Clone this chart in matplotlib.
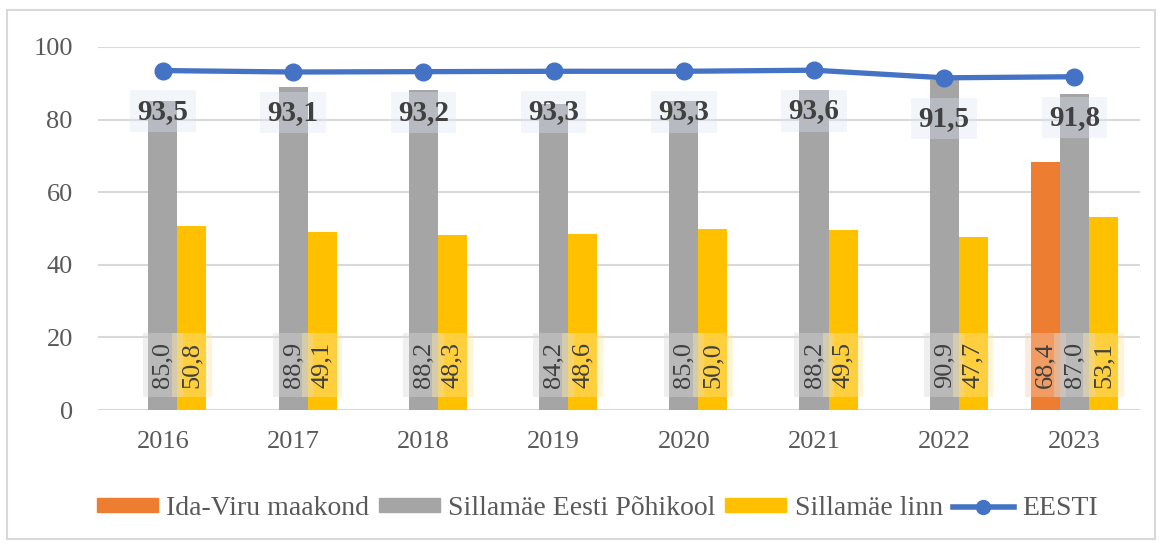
import matplotlib
matplotlib.use("Agg")
import matplotlib.pyplot as plt
import numpy as np
from matplotlib.patches import Rectangle
from matplotlib.lines import Line2D

plt.rcParams["font.family"] = ["Liberation Serif", "DejaVu Serif"]

years = ["2016", "2017", "2018", "2019", "2020", "2021", "2022", "2023"]
ida_viru = [np.nan, np.nan, np.nan, np.nan, np.nan, np.nan, np.nan, 68.4]
pohikool = [85.0, 88.9, 88.2, 84.2, 85.0, 88.2, 90.9, 87.0]
linn = [50.8, 49.1, 48.3, 48.6, 50.0, 49.5, 47.7, 53.1]
eesti = [93.5, 93.1, 93.2, 93.3, 93.3, 93.6, 91.5, 91.8]

c_orange = "#ED7D31"
c_gray = "#A5A5A5"
c_yellow = "#FFC000"
c_blue = "#4472C4"


def fmt(v):
    return f"{v:.1f}".replace(".", ",")


fig = plt.figure(figsize=(11.64, 5.46), dpi=100)
ax = fig.add_axes([0.084, 0.249, 0.895, 0.665])

# outer chart border
fig.patches.append(Rectangle((0.006, 0.012), 0.986, 0.97, transform=fig.transFigure,
                             fill=False, edgecolor="#D9D9D9", lw=1.5))

x = np.arange(len(years))
w = 0.223
series = [(ida_viru, c_orange, -w, "#F8CBAD"), (pohikool, c_gray, 0, "#D9D9D9"),
          (linn, c_yellow, w, "#FFE699")]
for vals, col, off, light in series:
    ax.bar(x + off, vals, width=w, color=col, zorder=2)
    for xi, v in zip(x, vals):
        if np.isnan(v):
            continue
        ax.text(xi + off, 12.4, fmt(v), rotation=90, ha="center", va="center",
                fontsize=19, color="#404040", zorder=4,
                bbox=dict(boxstyle="square,pad=0.35", fc=light, ec="none", alpha=0.4))

ax.plot(x, eesti, color=c_blue, lw=3.8, marker="o", ms=12, zorder=5)
for xi, v in zip(x, eesti):
    ax.text(xi, v - 11.2, fmt(v), ha="center", va="center", fontsize=21,
            fontweight="bold", color="#404040", zorder=6,
            bbox=dict(boxstyle="square,pad=0.25", fc="#DAE3F3", ec="none", alpha=0.35))

ax.set_ylim(0, 100)
ax.set_xlim(-0.5, len(years) - 0.5)
ax.set_yticks(range(0, 101, 20))
ax.set_xticks(x)
ax.set_xticklabels(years)
ax.tick_params(length=0, labelsize=19, labelcolor="#595959")
ax.tick_params(axis="y", pad=18)
ax.tick_params(axis="x", pad=15)
ax.grid(axis="y", color="#D9D9D9", lw=1.5, zorder=0)
ax.set_axisbelow(True)
for s in ax.spines.values():
    s.set_visible(False)

handles = [
    Rectangle((0, 0), 1, 1, color=c_orange),
    Rectangle((0, 0), 1, 1, color=c_gray),
    Rectangle((0, 0), 1, 1, color=c_yellow),
    Line2D([0], [0], color=c_blue, lw=4, marker="o", ms=10),
]
labels = ["Ida-Viru maakond", "Sillamäe Eesti Põhikool", "Sillamäe linn", "EESTI"]
fig.legend(handles, labels, loc="center", bbox_to_anchor=(0.513, 0.068), ncol=4,
           frameon=False, fontsize=20, handlelength=2.2, handleheight=0.4,
           handletextpad=0.3, columnspacing=0.35, labelcolor="#595959")

fig.savefig("out.png", dpi=100)
